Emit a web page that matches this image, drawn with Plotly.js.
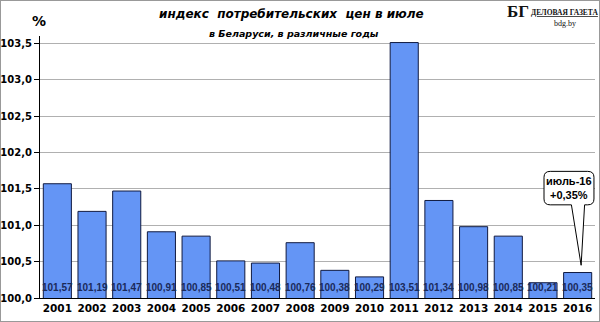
<!DOCTYPE html>
<html><head><meta charset="utf-8">
<script src="https://cdn.plot.ly/plotly-3.0.1.min.js"></script>
<style>html,body{margin:0;padding:0;background:#fff}#wrap{position:relative;width:598px;height:320px;border:1px solid #999}#c{position:absolute;left:-1px;top:-1px;width:600px;height:322px}</style>
</head><body><div id="wrap"><div id="c"></div></div>
<script>
var years = ['2001','2002','2003','2004','2005','2006','2007','2008','2009','2010','2011','2012','2013','2014','2015','2016'];
var values = [101.57,101.19,101.47,100.91,100.85,100.51,100.48,100.76,100.38,100.29,103.51,101.34,100.98,100.85,100.21,100.35];
var labels = ['101,57','101,19','101,47','100,91','100,85','100,51','100,48','100,76','100,38','100,29','103,51','101,34','100,98','100,85','100,21','100,35'];
var calloutText = 'июль-16<br>+0,35%';

var idx = years.map(function(_,i){return i;});
var F = 'DejaVu Sans, Verdana, sans-serif';
var FL = 'Liberation Sans, Arial, sans-serif';
var FS = 'Liberation Serif, serif';
var ann = idx.map(function(i){
  return {x:i, y:100.14, xref:'x', yref:'y', text:labels[i], showarrow:false,
    font:{family:FL, size:10, color:'#1a2a5a', weight:'bold'}};
});
function pa(x, y, text, font){
  return {xref:'paper', yref:'paper', x:x, y:y, xanchor:'center', yanchor:'middle', text:text, showarrow:false, font:font};
}
ann.push(pa(0.454, 1.084, '<b><i>индекс  потребительских  цен в июле</i></b>', {family:F, size:12, color:'#000'}));
ann.push(pa(0.458, 1.011, '<b><i>в Беларуси, в различные годы</i></b>', {family:F, size:9.5, color:'#000'}));
ann.push(pa(-0.002, 1.057, '<b>%</b>', {family:F, size:14, color:'#000'}));
ann.push(pa(0.861, 1.093, '<b>БГ</b>', {family:FS, size:17, color:'#111'}));
ann.push(pa(0.945, 1.088, '<b><u>ДЕЛОВАЯ ГАЗЕТА</u></b>', {family:FS, size:7.5, color:'#111'}));
ann.push(pa(0.946, 1.048, 'bdg.by', {family:FS, size:8, color:'#111'}));
ann.push({x:14.76, y:101.51, xref:'x', yref:'y', text:'<b>'+calloutText+'</b>', showarrow:false, font:{family:FL, size:11, color:'#000'}, align:'center'});

// callout bubble path (category index coordinates)
var x0=14.03, x1=15.47, y0=101.28, y1=101.74, rx=0.18, ry=0.08;
var path = 'M '+(x0+rx)+','+y1+' L '+(x1-rx)+','+y1+' Q '+x1+','+y1+' '+x1+','+(y1-ry)+
  ' L '+x1+','+(y0+ry)+' Q '+x1+','+y0+' '+(x1-rx)+','+y0+
  ' L 15.2,'+y0+' L 15.1,100.45 L 14.82,'+y0+
  ' L '+(x0+rx)+','+y0+' Q '+x0+','+y0+' '+x0+','+(y0+ry)+
  ' L '+x0+','+(y1-ry)+' Q '+x0+','+y1+' '+(x0+rx)+','+y1+' Z';

var trace = {type:'bar', x:idx, y:values,
  marker:{color:'#6495f5', line:{color:'#101a40', width:1}}, hoverinfo:'none'};

var layout = {
  width:600, height:322,
  margin:{l:40, r:5, t:36, b:24},
  paper_bgcolor:'rgba(0,0,0,0)', plot_bgcolor:'#fff',
  separators:',.',
  bargap:0.19,
  showlegend:false,
  xaxis:{type:'linear', range:[-0.5,15.5], tickvals:idx, ticktext:years, showline:true, linecolor:'#000', linewidth:1, ticks:'', 
    tickfont:{family:F, size:10.5, color:'#000', weight:'bold'}, showgrid:false, zeroline:false},
  yaxis:{range:[100,103.6], dtick:0.5, tick0:100, tickformat:'.1f', showline:true, linecolor:'#000', linewidth:1,
    ticks:'outside', ticklen:5, tickcolor:'#000', gridcolor:'#b0b0b0', gridwidth:1,
    tickfont:{family:F, size:10, color:'#000', weight:'bold'}, zeroline:false},
  annotations:ann,
  shapes:[{type:'path', path:path, xref:'x', yref:'y', line:{color:'#000', width:1}, fillcolor:'#fff'}]
};
Plotly.newPlot('c',[trace],layout,{staticPlot:true});
</script></body></html>
